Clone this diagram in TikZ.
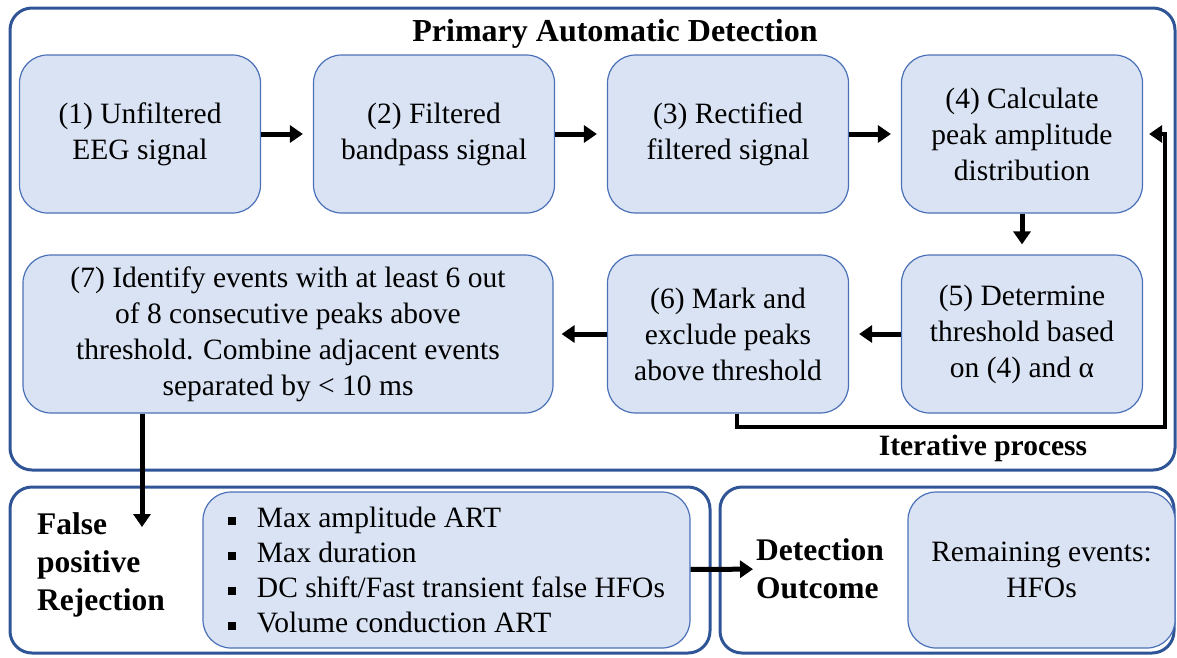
\documentclass[tikz,border=0pt]{standalone}
\usepackage{fontspec}
\setmainfont{LiberationSerif}[Extension=.ttf, UprightFont=*-Regular, BoldFont=*-Bold,
    ItalicFont=*-Italic, BoldItalicFont=*-BoldItalic]
\usetikzlibrary{arrows.meta,positioning}
\definecolor{boxfill}{HTML}{DAE3F3}
\definecolor{boxline}{HTML}{4A70B8}
\definecolor{frameline}{HTML}{2F5597}
\newcommand{\sqbullet}{\rule[3pt]{8pt}{8pt}\hspace{21pt}}
\tikzset{
    block/.style={
           rectangle, rounded corners=28pt,
           draw=boxline, line width=1.2pt, fill=boxfill,
           minimum width=241pt, minimum height=158pt,
           align=center, inner sep=0pt,
           font=\fontsize{29.5}{36}\selectfont
           },
    group/.style={
           rectangle, rounded corners=22pt,
           draw=frameline, line width=3pt, inner sep=0pt
           },
    heading/.style={
           inner sep=0pt, align=left,
           font=\fontsize{29.5}{38}\selectfont\bfseries
           },
    bigheading/.style={
           heading,
           font=\fontsize{31.5}{38}\selectfont\bfseries
           },
    flow/.style={
           line width=5pt, shorten >=10pt
           }
}
\begin{document}
\begin{tikzpicture}[x=1pt, y=-1pt, >={Triangle[length=13pt,width=17pt]}, node distance=294pt, on grid]
   \useasboundingbox (0,0) rectangle (1177,657);
   % frames
   \node[group, minimum width=1165pt, minimum height=462pt] (detect) at (592.5,239) {};
   \node[group, minimum width=700pt, minimum height=166pt]  (reject) at (360,570) {};
   \node[group, minimum width=454pt, minimum height=166pt]  (result) at (947,570) {};
   \node[heading, font=\fontsize{32}{38}\selectfont\bfseries] (title) at (615,34) {Primary Automatic Detection};

   % steps
   \node[block] (1) at (140,134)    {(1) Unfiltered\\EEG signal};
   \node[block] (2) [right=of 1]     {(2) Filtered\\bandpass signal};
   \node[block] (3) [right=of 2]     {(3) Rectified\\filtered signal};
   \node[block] (4) [right=of 3]     {(4) Calculate\\peak amplitude\\distribution};
   \node[block] (5) [below=200pt of 4] {(5) Determine\\threshold based\\on (4) and α};
   \node[block] (6) [left=of 5]      {(6) Mark and\\exclude peaks\\above threshold};
   \node[block, minimum width=530pt] (7) [left=440pt of 6]
        {(7) Identify events with at least 6 out\\of 8 consecutive peaks above\\threshold. Combine adjacent events\\separated by < 10 ms};
   \node[heading] (iter) at (983,448) {Iterative process};

   % rejection and outcome
   \node[bigheading, anchor=west] (fp) at (37,565) {False\\positive\\Rejection};
   \node[block, minimum width=487pt, minimum height=156pt, align=left,
         font=\fontsize{29.5}{35}\selectfont] (list) at (446.5,570)
        {\sqbullet Max amplitude ART\\
         \sqbullet Max duration\\
         \sqbullet DC shift/Fast transient false HFOs\\
         \sqbullet Volume conduction ART};
   \node[bigheading, anchor=west] (outcome) at (756,569) {Detection\\Outcome};
   \node[block, minimum width=267pt, minimum height=156pt] (hfo) at (1041.5,570) {Remaining events:\\HFOs};

   \coordinate (back) at (1165,427);
   \coordinate (down) at (142,527);

   \path[->, flow]
    (1) edge (2)
    (2) edge (3)
    (3) edge (4)
    (4) edge (5)
    (5) edge (6)
    (6) edge[shorten >=8pt] (7)
    (list) edge[shorten >=3pt] (outcome)
    ;
   \draw[->, line width=4.5pt, shorten >=6pt] ([xshift=9pt]6.south) |- (back) |- (4.east);
   \draw[->, flow, shorten >=0pt] (7.south -| down) -- (down);
\end{tikzpicture}
\end{document}
